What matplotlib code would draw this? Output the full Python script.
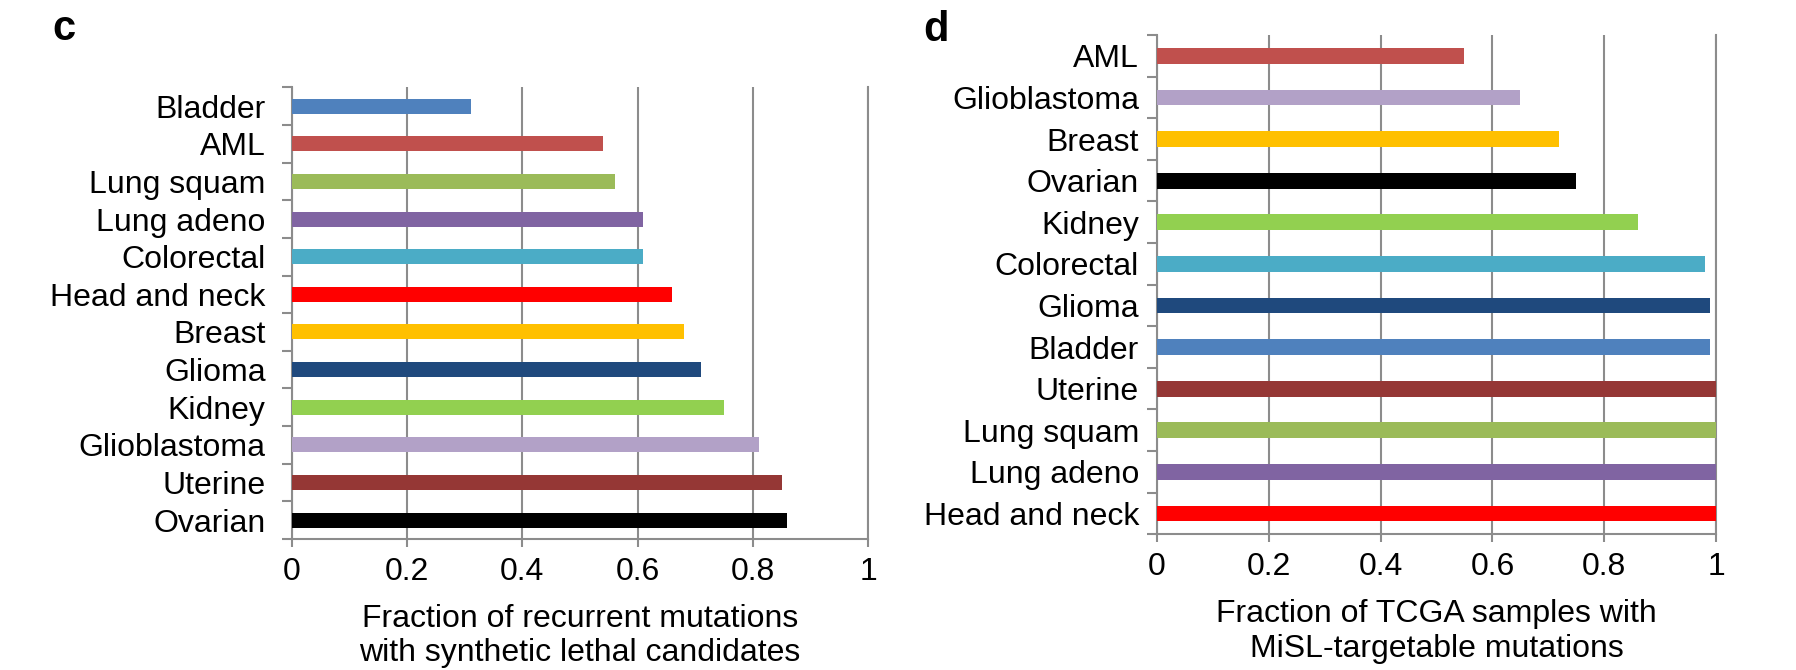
import matplotlib
matplotlib.use("Agg")
import matplotlib.pyplot as plt
import numpy as np

plt.rcParams['font.family'] = ['Liberation Sans', 'DejaVu Sans']

# Panel c data (top to bottom)
cats_c = ["Bladder", "AML", "Lung squam", "Lung adeno", "Colorectal", "Head and neck",
          "Breast", "Glioma", "Kidney", "Glioblastoma", "Uterine", "Ovarian"]
vals_c = [0.31, 0.54, 0.56, 0.61, 0.61, 0.66, 0.68, 0.71, 0.75, 0.81, 0.85, 0.86]

# Panel d data (top to bottom)
cats_d = ["AML", "Glioblastoma", "Breast", "Ovarian", "Kidney", "Colorectal", "Glioma",
          "Bladder", "Uterine", "Lung squam", "Lung adeno", "Head and neck"]
vals_d = [0.55, 0.65, 0.72, 0.75, 0.86, 0.98, 0.99, 0.99, 1.0, 1.0, 1.0, 1.0]

xticks = [0, 0.2, 0.4, 0.6, 0.8, 1]
xticklabels = ["0", "0.2", "0.4", "0.6", "0.8", "1"]

colors = {
    "Bladder": "#4F81BD", "AML": "#C0504D", "Lung squam": "#9BBB59",
    "Lung adeno": "#8064A2", "Colorectal": "#4BACC6", "Head and neck": "#FF0000",
    "Breast": "#FFC000", "Glioma": "#1F497D", "Kidney": "#92D050",
    "Glioblastoma": "#B2A1C7", "Uterine": "#953735", "Ovarian": "#000000",
}

xlabel_c = "Fraction of recurrent mutations\nwith synthetic lethal candidates"
xlabel_d = "Fraction of TCGA samples with\nMiSL-targetable mutations"

GRAY = "#8c8c8c"
FS = 23

fig = plt.figure(figsize=(17.96, 6.70), dpi=100)
ax_c = fig.add_axes([292/1796, 1-539/670, (868-292)/1796, (539-87.3)/670])
ax_d = fig.add_axes([1157/1796, 1-534.3/670, (1716-1157)/1796, (534.3-35)/670])

def draw(ax, cats, vals, bh, ypad, xlabel):
    y = np.arange(len(cats))
    ax.barh(y, vals, height=bh, color=[colors[c] for c in cats], zorder=3)
    ax.set_ylim(len(cats) - 0.5, -0.5)
    ax.set_xlim(0, 1)
    ax.set_yticks(y)
    ax.set_yticklabels(cats, fontsize=FS)
    ax.set_yticks(np.arange(len(cats) + 1) - 0.5, minor=True)
    ax.tick_params(axis='y', which='major', length=0, pad=ypad)
    ax.tick_params(axis='y', which='minor', length=7, width=1.5, color=GRAY, direction='out')
    ax.set_xticks(xticks)
    ax.set_xticklabels(xticklabels, fontsize=FS)
    ax.tick_params(axis='x', which='major', length=6, width=1.5, color=GRAY, direction='out', pad=7)
    ax.set_axisbelow(True)
    ax.xaxis.grid(True, color=GRAY, linewidth=1.5)
    for s in ['left', 'bottom', 'right']:
        ax.spines[s].set_color(GRAY)
        ax.spines[s].set_linewidth(1.5)
    ax.spines['top'].set_visible(False)
    ax.set_xlabel(xlabel, fontsize=FS, labelpad=12)

draw(ax_c, cats_c, vals_c, 0.4, 19, xlabel_c)
draw(ax_d, cats_d, vals_d, 0.38, 13, xlabel_d)

fig.text(52/1796, 1-40/670, "c", fontsize=30, fontweight='bold', ha='left', va='baseline')
fig.text(923/1796, 1-41/670, "d", fontsize=30, fontweight='bold', ha='left', va='baseline')

fig.savefig("out.png", dpi=100)
